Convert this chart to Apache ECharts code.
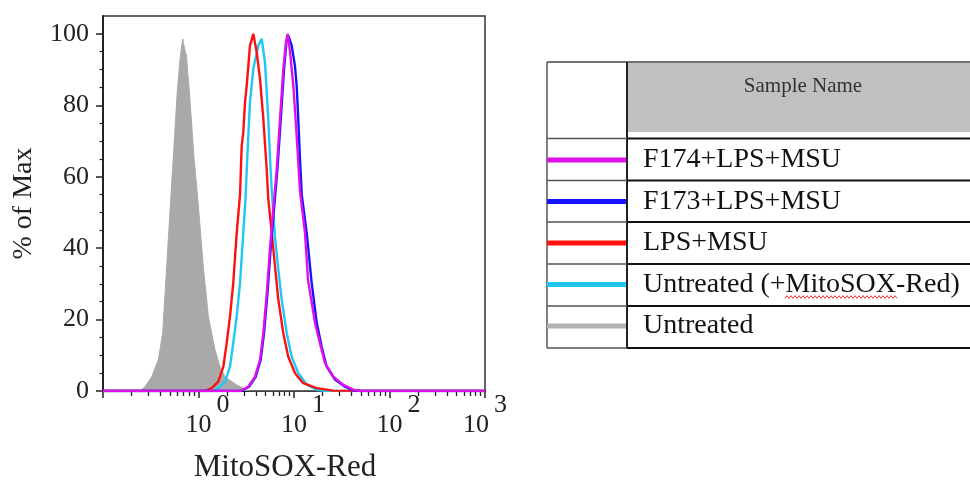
<!DOCTYPE html>
<html><head><meta charset="utf-8">
<script src="https://cdn.jsdelivr.net/npm/echarts@6/dist/echarts.min.js"></script>
<style>html,body{margin:0;padding:0;background:#fff}#c{width:970px;height:483px}</style>
</head><body><div id="c"></div>
<script>
// ---- data (x in log10 of MitoSOX-Red intensity, y in % of Max) ----
const sampleNames = ['F174+LPS+MSU', 'F173+LPS+MSU', 'LPS+MSU', 'Untreated (+MitoSOX-Red)', 'Untreated'];
const sampleColors = ['#e010ea', '#1414ff', '#ff1010', '#1ec8f2', '#b2b2b2'];

const untreatedLogX = [-0.613,-0.560,-0.490,-0.421,-0.375,-0.333,-0.291,-0.264,-0.222,-0.189,-0.165,-0.147,-0.124,-0.115,-0.096,-0.047,-0.005,0.050,0.103,0.173,0.225,0.277,0.400,0.505,0.539];
const untreatedPct  = [0,1.2,4,8.7,16.2,34.9,53.7,65.4,84,94,98.6,96,93.5,89.7,84,65.4,53,34.9,20.9,11.5,6.8,4,1.7,0.3,0];

const mitoLogX = [0.155,0.207,0.277,0.330,0.364,0.400,0.435,0.469,0.492,0.513,0.539,0.574,0.626,0.662,0.696,0.731,0.749,0.767,0.801,0.836,0.871,0.924,0.976,1.045,1.133,1.238,1.325];
const mitoPct  = [0,0.8,2.6,6.8,13.4,20.9,30.3,44.3,53.7,66.8,80.9,90.2,96.7,98.6,92,76,65,56,43,34,25.6,16.2,9.6,5,1.8,0.4,0];

const lpsLogX = [0.068,0.138,0.207,0.260,0.295,0.330,0.364,0.400,0.435,0.452,0.469,0.487,0.505,0.539,0.574,0.609,0.644,0.679,0.714,0.731,0.767,0.801,0.836,0.888,0.940,1.011,1.097,1.238,1.412];
const lpsPct  = [0,0.8,2.6,6.8,13.4,20.9,30.3,44.3,55,68.6,72.4,80.9,85.5,96.7,100,94.9,87.4,76.1,62.1,53.7,44.3,34.9,25.6,16.2,9.6,5,2.2,0.8,0.1];

const f173LogX = [0.445,0.529,0.599,0.651,0.686,0.721,0.756,0.791,0.826,0.861,0.895,0.921,0.940,0.976,1.010,1.028,1.045,1.063,1.081,1.133,1.185,1.238,1.290,1.342,1.429,1.534,1.621,1.712];
const f173Pct  = [0,1.2,4,8.7,16.2,27,40,51,62,76,90,97.7,99.5,96.7,91,85.5,76,64.7,55,44.3,30.3,19.1,12.4,6.8,3.2,1.2,0.2,0];

const f174LogX = [0.435,0.521,0.592,0.644,0.679,0.714,0.749,0.783,0.819,0.853,0.888,0.916,0.934,0.958,0.993,1.028,1.063,1.115,1.147,1.220,1.272,1.325,1.412,1.516,1.621,1.691];
const f174Pct  = [0,1.2,4,8.7,16.2,27,40,51,62,76,90,97.7,100,95,85.5,71.4,56,44.3,31,19.1,13.4,7.8,4,1.7,0.4,0];

const xDecades = [-1, 0, 1, 2, 3];          // axis range in log10 units
const minorMultipliers = [2,3,4,5,6,7,8,9];  // minor ticks within each decade
const yTickValues = [0, 20, 40, 60, 80, 100];

// ---- build ----
const FONT = '"Liberation Serif", "Times New Roman", serif';
const xMin = xDecades[0], xMax = xDecades[xDecades.length - 1];
function pairs(xs, ys) {
  const out = [[xMin, 0]];
  xs.forEach((x, i) => out.push([x, ys[i]]));
  out.push([xMax, 0]);
  return out;
}
const minorTickValues = [];
xDecades.slice(0, -1).forEach(d => minorMultipliers.forEach(m => minorTickValues.push(d + Math.log10(m))));

function lineSeries(idx, xs, ys, extra) {
  return Object.assign({
    type: 'line', name: sampleNames[idx], data: pairs(xs, ys),
    symbol: 'none', color: sampleColors[idx],
    lineStyle: { width: 2.4, color: sampleColors[idx] },
    animation: false
  }, extra || {});
}

const wave = [];
for (let x = 785, k = 0; x <= 897; x += 2, k++) wave.push([x, 297 + (k % 2 ? -1.3 : 1.3)]);

const rowLines = [138.5, 180.5, 222, 264, 306, 348];
const graphics = [
  { type: 'rect', shape: { x: 628, y: 63, width: 342, height: 69 }, style: { fill: '#c0c0c0' }, z: 0 },
  { type: 'line', shape: { x1: 547, y1: 62, x2: 970, y2: 62 }, style: { stroke: '#444', lineWidth: 1.5 }, z: 1 },
  { type: 'line', shape: { x1: 547, y1: 62, x2: 547, y2: 348 }, style: { stroke: '#555', lineWidth: 1.5 }, z: 1 },
  { type: 'line', shape: { x1: 627, y1: 62, x2: 627, y2: 349 }, style: { stroke: '#222', lineWidth: 2 }, z: 1 },
  { type: 'text', x: 803, y: 86, style: { text: 'Sample Name', font: '21px ' + FONT, fill: '#333', align: 'center', verticalAlign: 'middle' }, z: 2 },
  { type: 'polyline', shape: { points: wave }, style: { stroke: '#e03030', lineWidth: 1, fill: null }, z: 2 }
];
rowLines.forEach(y => {
  graphics.push({ type: 'line', shape: { x1: 547, y1: y, x2: 627, y2: y }, style: { stroke: '#555', lineWidth: 1.5 }, z: 1 });
  graphics.push({ type: 'line', shape: { x1: 627, y1: y, x2: 970, y2: y }, style: { stroke: '#111', lineWidth: 2 }, z: 1 });
});

const chart = echarts.init(document.getElementById('c'), null, { renderer: 'canvas' });
chart.setOption({
  animation: false,
  backgroundColor: '#fff',
  grid: { left: 103, top: 16, width: 382, height: 375, show: true, borderColor: '#333', borderWidth: 1.5, containLabel: false, outerBoundsMode: 'none' },
  xAxis: [{
    type: 'value', min: xMin, max: xMax, interval: 1, position: 'bottom',
    axisLine: { show: true, onZero: false, lineStyle: { color: '#222', width: 2 } },
    axisTick: { show: true, length: 7, lineStyle: { color: '#222', width: 1.5 } },
    splitLine: { show: false },
    axisLabel: {
      margin: 11,
      formatter: v => {
        const e = Math.round(v);
        if (e < 0) return '';
        return (e === xMax ? '{bl|10}' : '{b|10}') + '{s|' + e + '}';
      },
      rich: {
        b:  { fontFamily: FONT, fontSize: 26, lineHeight: 26, color: '#222', padding: [20, 0, 0, 18] },
        bl: { fontFamily: FONT, fontSize: 26, lineHeight: 26, color: '#222', padding: [20, 0, 0, 0] },
        s:  { fontFamily: FONT, fontSize: 26, lineHeight: 26, color: '#222', padding: [0, 0, 20, 5] }
      }
    },
    name: 'MitoSOX-Red', nameLocation: 'middle', nameGap: 61,
    nameTextStyle: { fontFamily: FONT, fontSize: 31, color: '#222', padding: [0, 18, 0, 0] }
  }, {
    type: 'value', min: xMin, max: xMax, position: 'bottom', offset: 0,
    axisLine: { show: false, onZero: false },
    axisTick: { show: true, length: 5, customValues: minorTickValues, lineStyle: { color: '#222', width: 1.3 } },
    axisLabel: { show: false }, splitLine: { show: false }
  }],
  yAxis: {
    type: 'value', min: 0, max: 105, interval: 20, position: 'left',
    axisLine: { show: true, onZero: false, lineStyle: { color: '#222', width: 2 } },
    axisTick: { show: true, length: 7, customValues: yTickValues, lineStyle: { color: '#222', width: 1.5 } },
    minorTick: { show: true, splitNumber: 4, length: 3.5, lineStyle: { color: '#222', width: 1.2 } },
    splitLine: { show: false },
    axisLabel: { customValues: yTickValues, margin: 14, fontFamily: FONT, fontSize: 26, color: '#222' },
    name: '% of Max', nameLocation: 'middle', nameGap: 65,
    nameTextStyle: { fontFamily: FONT, fontSize: 28, color: '#222' }
  },
  legend: {
    orient: 'vertical', left: 547, top: 145, padding: 0, itemGap: 11.5,
    itemWidth: 79, itemHeight: 5, icon: 'rect', selectedMode: false, z: 10,
    textStyle: { fontFamily: FONT, fontSize: 28, color: '#111', lineHeight: 30, padding: [0, 0, 0, 12] },
    data: sampleNames.map((n, i) => ({ name: n, itemStyle: { color: sampleColors[i] } }))
  },
  graphic: graphics,
  series: [
    lineSeries(4, untreatedLogX, untreatedPct, { lineStyle: { width: 1, color: '#a9a9a9' }, areaStyle: { color: '#a9a9a9', opacity: 1 } }),
    lineSeries(3, mitoLogX, mitoPct),
    lineSeries(2, lpsLogX, lpsPct),
    lineSeries(1, f173LogX, f173Pct),
    lineSeries(0, f174LogX, f174Pct)
  ]
});
</script>
</body></html>
